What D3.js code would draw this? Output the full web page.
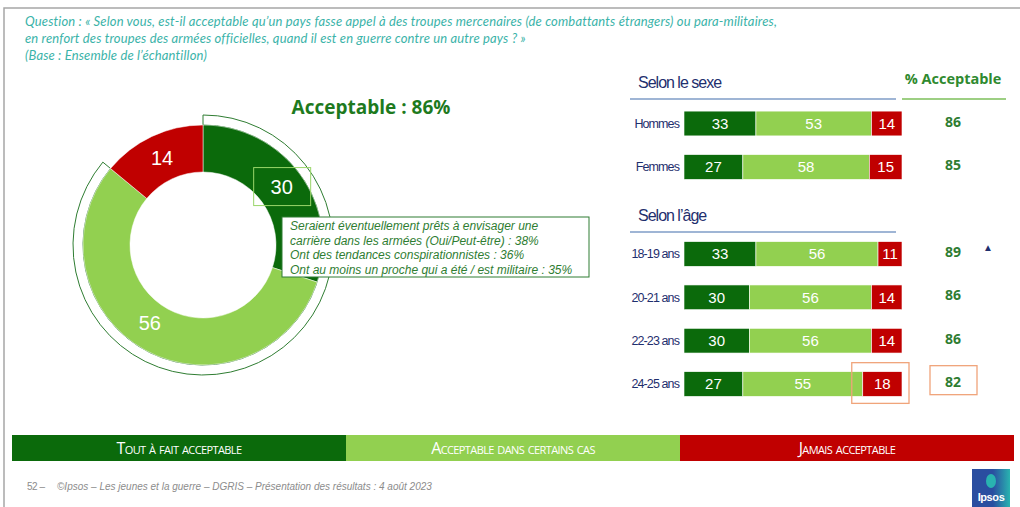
<!DOCTYPE html>
<html>
<head>
<meta charset="utf-8">
<script src="https://cdn.jsdelivr.net/npm/d3@7"></script>
<style>
  body { margin: 0; background: #fff; }
  svg { display: block; }
  text { font-family: "Liberation Sans", Arial, sans-serif; }
</style>
</head>
<body>
<svg id="chart" width="1020" height="507"></svg>
<script>
// data
const questionLines = [
  "Question : « Selon vous, est-il acceptable qu’un pays fasse appel à des troupes mercenaires (de combattants étrangers) ou para-militaires,",
  "en renfort des troupes des armées officielles, quand il est en guerre contre un autre pays ?  »",
  "(Base : Ensemble de l’échantillon)"
]
const categories = ["Tout à fait acceptable", "Acceptable dans certains cas", "Jamais acceptable"]
const totalValues = [30, 56, 14]
const totalAcceptable = 86
const calloutLines = [
  "Seraient éventuellement prêts à envisager une",
  "carrière dans les armées (Oui/Peut-être) : 38%",
  "Ont des tendances conspirationnistes : 36%",
  "Ont au moins un proche qui a été / est militaire : 35%"
]
const sexLabels = ["Hommes", "Femmes"]
const sexValues = [[33, 53, 14], [27, 58, 15]]
const sexAcceptable = [86, 85]
const ageLabels = ["18-19 ans", "20-21 ans", "22-23 ans", "24-25 ans"]
const ageValues = [[33, 56, 11], [30, 56, 14], [30, 56, 14], [27, 55, 18]]
const ageAcceptable = [89, 86, 86, 82]
const footerText = "©Ipsos – Les jeunes et la guerre – DGRIS – Présentation des résultats : 4 août 2023"

const colors = d3.scaleOrdinal().domain(categories).range(["#0b6a0b", "#92d050", "#c00000"])
const navy = "#1f2f6e"
const teal = "#3bb3a9"

let svg = d3.select("#chart")

// slide frame
svg.append("path")
  .attr("d", "M4,507 V8 H1020")
  .attr("fill", "none")
  .attr("stroke", "#a6a6a6")
  .attr("stroke-width", 1.5)

// question text
svg.append("g").selectAll("text")
  .data(questionLines)
  .join("text")
  .attr("x", 25)
  .attr("y", (d, i) => 26 + i * 17)
  .attr("fill", teal)
  .attr("font-size", 13)
  .attr("font-style", "italic")
  .attr("letter-spacing", 0.15)
  .style("font-family", "Lato, sans-serif")
  .text(d => d)

// ---- donut
const cx = 203, cy = 245
let pie = d3.pie().sort(null).value(d => d)
let arcs = pie(totalValues)
let arc = d3.arc().innerRadius(73).outerRadius(120)
let donut = svg.append("g").attr("transform", `translate(${cx},${cy})`)

// outline around the acceptable part
donut.append("path")
  .attr("d", d3.arc().innerRadius(120).outerRadius(130)
    .startAngle(0).endAngle(2 * Math.PI * totalAcceptable / 100)())
  .attr("fill", "#fff")
  .attr("stroke", "#2f7d32")
  .attr("stroke-width", 1)

donut.selectAll("path.slice")
  .data(arcs)
  .join("path")
  .attr("class", "slice")
  .attr("d", arc)
  .attr("fill", (d, i) => colors(categories[i]))
  .attr("stroke", "#fff")
  .attr("stroke-width", 0.5)

let labelArc = d3.arc().innerRadius(96).outerRadius(96)
donut.selectAll("text.val")
  .data(arcs)
  .join("text")
  .attr("class", "val")
  .attr("transform", d => {
    let [x, y] = labelArc.centroid(d)
    if (d.index === 0) { x += 1; y -= 2 }
    if (d.index === 1) { x -= 7; y -= 6 }
    return `translate(${x},${y})`
  })
  .attr("text-anchor", "middle")
  .attr("dy", "0.36em")
  .attr("fill", "#fff")
  .attr("font-size", 20)
  .text(d => d.data)

// little box around the "30"
let c30 = labelArc.centroid(arcs[0])
donut.append("rect")
  .attr("x", c30[0] + 1 - 28)
  .attr("y", c30[1] - 2 - 19)
  .attr("width", 57)
  .attr("height", 38)
  .attr("fill", "none")
  .attr("stroke", "#9ad66a")
  .attr("stroke-width", 1)

svg.append("text")
  .attr("x", 371)
  .attr("y", 114)
  .attr("text-anchor", "middle")
  .attr("fill", "#1e7a1e")
  .attr("font-size", 19)
  .attr("font-weight", "bold")
  .style("font-family", "'Open Sans', sans-serif")
  .text(`Acceptable : ${totalAcceptable}%`)

// callout
let callout = svg.append("g").attr("transform", "translate(282,217)")
callout.append("rect")
  .attr("width", 307)
  .attr("height", 60)
  .attr("fill", "#fff")
  .attr("stroke", "#2f7d32")
  .attr("stroke-width", 1)
callout.selectAll("text")
  .data(calloutLines)
  .join("text")
  .attr("x", 8)
  .attr("y", (d, i) => 13 + i * 14.5)
  .attr("fill", "#2f7d32")
  .attr("font-size", 12)
  .attr("font-style", "italic")
  .attr("letter-spacing", 0)
  .text(d => d)

// ---- stacked bars
const barX = d3.scaleLinear().domain([0, 100]).range([684, 902])
const sexY = d3.scaleBand().domain(sexLabels).range([101.75, 188.75]).paddingInner(0.43).paddingOuter(0.215)
const ageY = d3.scaleBand().domain(ageLabels).range([232.3, 405.7]).paddingInner(0.43).paddingOuter(0.215)

function header(label, y) {
  svg.append("text")
    .attr("x", 638).attr("y", y)
    .attr("fill", navy)
    .attr("font-size", 16)
    .attr("letter-spacing", -1)
    .text(label)
  svg.append("line")
    .attr("x1", 630).attr("x2", 896)
    .attr("y1", y + 11).attr("y2", y + 11)
    .attr("stroke", "#7f9cc7").attr("stroke-width", 1.5)
}
header("Selon le sexe", 88)
header("Selon l’âge", 221)

svg.append("text")
  .attr("x", 953).attr("y", 84)
  .attr("text-anchor", "middle")
  .attr("fill", "#2f8a2f")
  .attr("font-size", 14.5)
  .attr("font-weight", "bold")
  .style("font-family", "'Open Sans', sans-serif")
  .text("% Acceptable")
svg.append("line")
  .attr("x1", 902).attr("x2", 1006)
  .attr("y1", 99).attr("y2", 99)
  .attr("stroke", "#7cbf5a").attr("stroke-width", 1.5)

function drawRows(labels, values, accept, yScale) {
  let g = svg.append("g")
  let rows = g.selectAll("g.row")
    .data(labels.map((l, i) => ({ label: l, values: values[i], acc: accept[i] })))
    .join("g")
    .attr("class", "row")
    .attr("transform", d => `translate(0,${yScale(d.label)})`)

  rows.append("text")
    .attr("x", 679)
    .attr("y", yScale.bandwidth() / 2)
    .attr("dy", "0.35em")
    .attr("text-anchor", "end")
    .attr("fill", navy)
    .attr("font-size", 12.5)
    .attr("letter-spacing", -0.9)
    .text(d => d.label)

  rows.each(function (d) {
    let stack = d3.cumsum(d.values)
    let segs = d.values.map((v, i) => ({ v, start: stack[i] - v, end: stack[i], cat: categories[i] }))
    let s = d3.select(this).selectAll("g.seg").data(segs).join("g").attr("class", "seg")
    s.append("rect")
      .attr("x", e => barX(e.start))
      .attr("width", e => barX(e.end) - barX(e.start))
      .attr("height", yScale.bandwidth())
      .attr("fill", e => colors(e.cat))
      .attr("stroke", "#fff")
      .attr("stroke-width", 0.6)
    s.append("text")
      .attr("x", e => (barX(e.start) + barX(e.end)) / 2)
      .attr("y", yScale.bandwidth() / 2)
      .attr("dy", "0.36em")
      .attr("text-anchor", "middle")
      .attr("fill", "#fff")
      .attr("font-size", 15)
      .text(e => e.v)
  })

  rows.append("text")
    .attr("x", 953)
    .attr("y", yScale.bandwidth() / 2 - 2)
    .attr("dy", "0.36em")
    .attr("text-anchor", "middle")
    .attr("fill", "#2f7d32")
    .attr("font-size", 14)
    .attr("font-weight", "bold")
    .style("font-family", "'Open Sans', sans-serif")
    .text(d => d.acc)
}
drawRows(sexLabels, sexValues, sexAcceptable, sexY)
drawRows(ageLabels, ageValues, ageAcceptable, ageY)

// significance marker
svg.append("text")
  .attr("x", 988)
  .attr("y", ageY(ageLabels[0]) + 4)
  .attr("dy", "0.5em")
  .attr("text-anchor", "middle")
  .attr("fill", navy)
  .attr("font-size", 10)
  .text("▲")

// highlight boxes on the last age group
let last = ageLabels[ageLabels.length - 1]
let lastVals = ageValues[ageValues.length - 1]
let redStart = barX(lastVals[0] + lastVals[1])
svg.append("rect")
  .attr("x", redStart - 11)
  .attr("y", ageY(last) - 9)
  .attr("width", barX(100) - redStart + 18)
  .attr("height", ageY.bandwidth() + 16)
  .attr("fill", "none")
  .attr("stroke", "#f0a47a")
  .attr("stroke-width", 1.3)
svg.append("rect")
  .attr("x", 930)
  .attr("y", ageY(last) - 6)
  .attr("width", 47)
  .attr("height", 29)
  .attr("fill", "none")
  .attr("stroke", "#f0a47a")
  .attr("stroke-width", 1.3)

// ---- legend band
const legX = d3.scaleBand().domain(categories).range([12, 1014])
let leg = svg.append("g").selectAll("g")
  .data(categories)
  .join("g")
leg.append("rect")
  .attr("x", d => legX(d))
  .attr("y", 435)
  .attr("width", legX.bandwidth())
  .attr("height", 26)
  .attr("fill", d => colors(d))
leg.append("text")
  .attr("x", d => legX(d) + legX.bandwidth() / 2)
  .attr("y", 448)
  .attr("dy", "0.36em")
  .attr("text-anchor", "middle")
  .attr("fill", "#fff")
  .attr("font-size", 16)
  .attr("font-variant", "small-caps")
  .attr("letter-spacing", -0.6)
  .style("font-family", "'Open Sans', sans-serif")
  .text(d => d)

// ---- footer
svg.append("text")
  .attr("x", 27).attr("y", 490)
  .attr("fill", "#8c8c8c")
  .attr("font-size", 10)
  .attr("letter-spacing", -0.5)
  .text("52 –")
svg.append("text")
  .attr("x", 57).attr("y", 490)
  .attr("fill", "#8c8c8c")
  .attr("font-size", 10)
  .attr("font-style", "italic")
  .text(footerText)

// Ipsos logo
let logo = svg.append("g").attr("transform", "translate(972,469)")
let grad = svg.append("defs").append("linearGradient").attr("id", "ipsosGrad")
grad.append("stop").attr("offset", "0.55").attr("stop-color", "#2a4ea0")
grad.append("stop").attr("offset", "1").attr("stop-color", "#29b3b0")
logo.append("rect").attr("width", 38).attr("height", 38).attr("fill", "url(#ipsosGrad)")
logo.append("ellipse").attr("cx", 19).attr("cy", 12).attr("rx", 5).attr("ry", 7).attr("fill", "#29b3b0")
logo.append("text")
  .attr("x", 19).attr("y", 32)
  .attr("text-anchor", "middle")
  .attr("fill", "#fff")
  .attr("font-size", 11)
  .attr("font-weight", "bold")
  .attr("letter-spacing", -0.4)
  .text("Ipsos")
</script>
</body>
</html>
